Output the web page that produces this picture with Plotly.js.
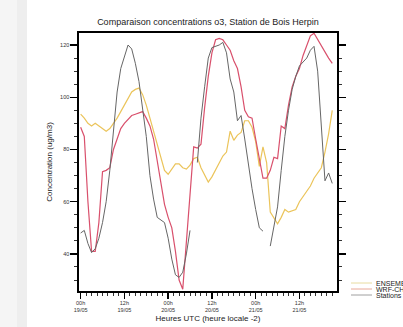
<!DOCTYPE html>
<html><head><meta charset="utf-8">
<script src="https://cdn.plot.ly/plotly-3.0.1.min.js"></script>
<style>html,body{margin:0;padding:0;background:#fff;}#c{width:403px;height:327px;}</style>
</head><body><div id="c"></div>
<script>
var hours = [];
for (var i = 0; i < 70; i++) hours.push(i);

var ensemble = [93.5,92,90,89,90,89,88,87,88,90,
  92,94.5,97,100,102,103,103.5,101,97,92,
  87,82,77,72,70.5,72.5,74.5,74.5,73,72.5,
  74,76.5,77,73,70,67.5,69.5,72,74.5,77.5,
  79,87,83.5,85.5,86.5,91,91,88.5,83,73.5,
  81,75,56,53.5,51.5,54,57,56,56.5,57,
  60,62,64,66,69,71,73,79,86,95];

var wrf = [88.5,85,60,41,41,52,71.5,72,73,80,
  84,88,90,91.5,93,93.5,94,94.5,92,89,
  84,76,68,59,54,50,41,30,26.5,45,
  63,81,80.5,82,96,108,117,122,122.5,122,
  120,118,114,111,104,95,92.5,92,84,76,
  69,69,72,77,76.5,89,88,97,104,108,
  111,116,120,123.5,124.5,122,120,117.5,115,113];

var stations = [48,49,44,40.5,42,46,52,60,72,88,
  102,111,116,120,118.5,113,106,96,85,70,
  61,54,53,52,46,38,32,31,33,40,
  49,null,75,92,104,115,119,119.5,120,121,
  117,107,102,91,93,84,74,65,57,50,
  48.7,null,43,50,58,72,85,95,103,108,
  112,113.5,115,118,119.5,110,87,68,71,67];

var tickVals = [0,12,24,36,48,60];
var tickText = ["00h<br>19/05","12h<br>19/05","00h<br>20/05","12h<br>20/05","00h<br>21/05","12h<br>21/05"];
var seriesNames = ["ENSEMBLE","WRF-CHIMERE","Stations"];
var seriesColors = ["#ebc45a","#d9506c","#666666"];

var traces = [
  {x: hours, y: ensemble, name: seriesNames[0], mode: "lines", line: {color: seriesColors[0], width: 1.2}},
  {x: hours, y: wrf, name: seriesNames[1], mode: "lines", line: {color: seriesColors[1], width: 1.2}},
  {x: hours, y: stations, name: seriesNames[2], mode: "lines", line: {color: seriesColors[2], width: 1.0}, connectgaps: false}
];

var plotW = 258, plotH = 258;
function px(xp){ return (xp - 79) / plotW; }
function py(yp){ return (291 - yp) / plotH; }

var shapes = [
  {type:"rect", xref:"paper", yref:"paper", x0:px(0), x1:px(17), y0:py(327), y1:py(0), fillcolor:"#f5f5f5", line:{width:0}, layer:"below"},
  {type:"rect", xref:"paper", yref:"paper", x0:px(17), x1:px(27), y0:py(327), y1:py(0), fillcolor:"#eeeeee", line:{width:0}, layer:"below"}
];
var annotations = [];
var legY = [283, 289, 295];
var legColors = ["#e8dca0","#e8a898","#a0a0a0"];
for (var k = 0; k < 3; k++) {
  shapes.push({type:"line", xref:"paper", yref:"paper", x0:px(351), x1:px(372), y0:py(legY[k]), y1:py(legY[k]), line:{color:legColors[k], width:1}});
  annotations.push({xref:"paper", yref:"paper", x:px(374), y:py(legY[k]), text:seriesNames[k], showarrow:false, xanchor:"left", yanchor:"middle", font:{size:7, color:"#222", family:"Liberation Sans, Arial, sans-serif"}});
}

var layout = {
  width: 403, height: 327,
  margin: {l: 79, r: 66, t: 33, b: 36},
  paper_bgcolor: "#ffffff", plot_bgcolor: "#ffffff",
  showlegend: false,
  font: {family: "Liberation Sans, Arial, sans-serif", color: "#222"},
  title: {text: "Comparaison concentrations o3, Station de Bois Herpin", x: 0.516, xanchor: "center", y: 1 - 22/327, yanchor: "middle", yref: "container", font: {size: 9, color: "#222"}},
  xaxis: {
    range: [-0.45, 70.3], showgrid: false, zeroline: false,
    showline: true, linecolor: "#000", linewidth: 1.6, mirror: true,
    ticks: "outside", ticklen: 6, tickwidth: 1.4, tickcolor: "#000",
    tickvals: tickVals, ticktext: tickText,
    tickfont: {size: 5.5, color: "#333"},
    minor: {dtick: 1.5, tick0: 0, ticks: "outside", ticklen: 3, tickwidth: 0.8, tickcolor: "#000", showgrid: false},
    title: {text: "Heures UTC (heure locale -2)", font: {size: 8, color: "#222"}, standoff: 3}
  },
  yaxis: {
    range: [25.8, 124.6], showgrid: false, zeroline: false,
    showline: true, linecolor: "#000", linewidth: 1.6, mirror: "ticks",
    ticks: "outside", ticklen: 7, tickwidth: 1.4, tickcolor: "#000",
    tickvals: [40,60,80,100,120],
    tickfont: {size: 5.5, color: "#333"},
    minor: {dtick: 5, tick0: 0, ticks: "outside", ticklen: 3, tickwidth: 0.8, tickcolor: "#000", showgrid: false},
    title: {text: "Concentration (ug/m3)", font: {size: 8, color: "#222"}, standoff: 6}
  },
  shapes: shapes,
  annotations: annotations
};

Plotly.newPlot("c", traces, layout, {displayModeBar: false, staticPlot: true});
</script>
</body></html>
